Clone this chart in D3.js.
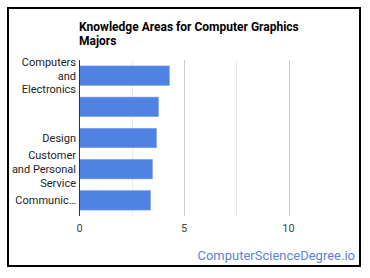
<!DOCTYPE html>
<html>
<head>
<meta charset="utf-8">
<script src="https://cdn.jsdelivr.net/npm/d3@7"></script>
<style>
  html, body { margin: 0; padding: 0; background: #fff; }
  svg { display: block; font-family: Roboto, Arial, sans-serif; }
</style>
</head>
<body>
<div id="chart"></div>
<script>
const categories = [
  ["Computers", "and", "Electronics"],
  [],
  ["Design"],
  ["Customer", "and Personal", "Service"],
  ["Communic\u2026"]
];
const values = [4.3, 3.78, 3.68, 3.49, 3.4];
const tickValues = [0, 5, 10];
const gridValues = [2.5, 7.5];

const width = 370, height = 278;

const svg = d3
  .select("#chart")
  .append("svg")
  .attr("width", width)
  .attr("height", height);

// frame
svg
  .append("rect")
  .attr("x", 8)
  .attr("y", 8)
  .attr("width", 352)
  .attr("height", 258)
  .attr("fill", "#fff")
  .attr("stroke", "#000")
  .attr("stroke-width", 2);

const x = d3.scaleLinear().domain([0, 10]).range([79.5, 288.5]);
const y = d3
  .scaleBand()
  .domain(d3.range(values.length))
  .range([60, 216])
  .paddingInner(0.375)
  .paddingOuter(0.19);

// title
svg
  .append("text")
  .attr("x", 79)
  .attr("y", 31)
  .attr("font-size", 12)
  .attr("font-weight", "bold")
  .attr("fill", "#000")
  .selectAll("tspan")
  .data(["Knowledge Areas for Computer Graphics", "Majors"])
  .enter()
  .append("tspan")
  .attr("x", 79)
  .attr("dy", (d, i) => (i ? 14 : 0))
  .text((d) => d);

// gridlines
svg
  .selectAll(".minor")
  .data(gridValues)
  .enter()
  .append("line")
  .attr("x1", (d) => Math.round(x(d)) + 0.5)
  .attr("x2", (d) => Math.round(x(d)) + 0.5)
  .attr("y1", 60)
  .attr("y2", 216)
  .attr("stroke", "#ebebeb");

svg
  .selectAll(".major")
  .data(tickValues.slice(1))
  .enter()
  .append("line")
  .attr("x1", (d) => Math.round(x(d)) + 0.5)
  .attr("x2", (d) => Math.round(x(d)) + 0.5)
  .attr("y1", 60)
  .attr("y2", 216)
  .attr("stroke", "#cccccc");

// bars
svg
  .selectAll(".bar")
  .data(values)
  .enter()
  .append("rect")
  .attr("x", x(0))
  .attr("y", (d, i) => y(i))
  .attr("width", (d) => x(d) - x(0))
  .attr("height", y.bandwidth())
  .attr("fill", "#4f82e2")
  .attr("stroke", "#7aa0ea")
  .attr("stroke-width", 0.6);

// axis line
svg
  .append("line")
  .attr("x1", 79.5)
  .attr("x2", 79.5)
  .attr("y1", 60)
  .attr("y2", 216)
  .attr("stroke", "#333");

// category labels
const labels = svg
  .selectAll(".cat")
  .data(categories)
  .enter()
  .append("text")
  .attr("text-anchor", "end")
  .attr("font-size", 11)
  .attr("fill", "#222");

labels
  .selectAll("tspan")
  .data((d, i) => d.map((t, j) => ({ t, j, n: d.length, i })))
  .enter()
  .append("tspan")
  .attr("x", 76)
  .attr(
    "y",
    (d) => y(d.i) + y.bandwidth() / 2 + 4 + (d.j - (d.n - 1) / 2) * 13.8
  )
  .text((d) => d.t);

// x tick labels
svg
  .selectAll(".tick")
  .data(tickValues)
  .enter()
  .append("text")
  .attr("x", (d) => x(d))
  .attr("y", 232)
  .attr("text-anchor", "middle")
  .attr("font-size", 11)
  .attr("fill", "#444")
  .text((d) => d);

// watermark
svg
  .append("text")
  .attr("x", 355)
  .attr("y", 260)
  .attr("text-anchor", "end")
  .attr("font-size", 13)
  .attr("fill", "#5b84d6")
  .text("ComputerScienceDegree.io");
</script>
</body>
</html>
